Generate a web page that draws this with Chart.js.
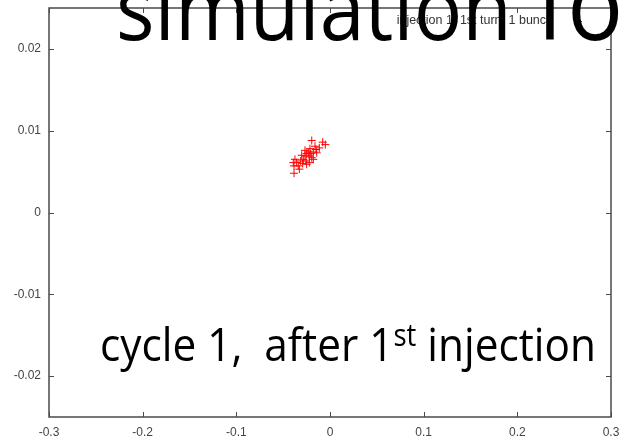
<!DOCTYPE html>
<html lang="en">
<head>
  <meta charset="UTF-8">
  <title>Injection 1 - bunch distribution</title>
  <script src="https://cdn.jsdelivr.net/npm/chart.js"></script>
  <style>
    html, body {
      margin: 0;
      padding: 0;
      background: #fff;
    }

    .chart-box {
      width: 624px;
      height: 444px;
      position: relative;
    }
  </style>
</head>
<body>

  <div class="chart-box">
    <canvas id="bunchChart"></canvas>
  </div>

  <script>
    // axis ticks
    const xTickValues = [-0.3, -0.2, -0.1, 0, 0.1, 0.2, 0.3];
    const xTickLabels = ['-0.3', '-0.2', '-0.1', '0', '0.1', '0.2', '0.3'];
    const yTickValues = [-0.02, -0.01, 0, 0.01, 0.02];
    const yTickLabels = ['-0.02', '-0.01', '0', '0.01', '0.02'];

    // particles of the bunch
    const bunchX = [-0.0195, -0.0078, -0.0050, -0.0114, -0.0149, -0.0178, -0.0206, -0.0232,
                    -0.0249, -0.0267, -0.0221, -0.0195, -0.0285, -0.0313, -0.0256, -0.0292,
                    -0.0249, -0.0374, -0.0392, -0.0356, -0.0384, -0.0338, -0.0384, -0.0160,
                    -0.0214, -0.0267, -0.0142, -0.0302, -0.0178, -0.0327, -0.0221];
    const bunchY = [0.0088, 0.0086, 0.0083, 0.0079, 0.0077, 0.0074, 0.0072, 0.0074,
                    0.0072, 0.0069, 0.0069, 0.0067, 0.0065, 0.0063, 0.0063, 0.0060,
                    0.0059, 0.0065, 0.0061, 0.0061, 0.0057, 0.0057, 0.0048, 0.0081,
                    0.0078, 0.0076, 0.0073, 0.0070, 0.0065, 0.0053, 0.0061];

    const seriesLabel = 'injection 1, 1st turn, 1 bunch';
    const titleWords = ['simulation', 'fo'];
    const captionParts = ['cycle 1,  after 1', 'st', ' injection'];

    const points = bunchX.map((x, i) => ({ x: x, y: bunchY[i] }));

    // frame, inward ticks, key and the slide texts on top of the plot
    const overlay = {
      id: 'overlay',
      afterDraw(chart) {
        const ctx = chart.ctx;
        const { left, right, top, bottom } = chart.chartArea;
        const xs = chart.scales.x;
        const ys = chart.scales.y;
        ctx.save();

        ctx.strokeStyle = '#4a4a4a';
        ctx.lineWidth = 1.5;
        ctx.strokeRect(left, top, right - left, bottom - top);

        ctx.lineWidth = 1;
        ctx.beginPath();
        xTickValues.forEach(v => {
          const px = Math.round(xs.getPixelForValue(v)) + 0.5;
          ctx.moveTo(px, bottom); ctx.lineTo(px, bottom - 5);
          ctx.moveTo(px, top); ctx.lineTo(px, top + 5);
        });
        yTickValues.forEach(v => {
          const py = Math.round(ys.getPixelForValue(v)) + 0.5;
          ctx.moveTo(left, py); ctx.lineTo(left + 5, py);
          ctx.moveTo(right, py); ctx.lineTo(right - 5, py);
        });
        ctx.stroke();

        // key
        ctx.font = '12.5px "Liberation Sans", Arial, sans-serif';
        ctx.fillStyle = '#333';
        ctx.textAlign = 'right';
        ctx.textBaseline = 'middle';
        ctx.fillText(seriesLabel, 553, 21);
        ctx.strokeStyle = '#ff0000';
        ctx.beginPath();
        ctx.moveTo(574, 21.5); ctx.lineTo(582, 21.5);
        ctx.moveTo(578.5, 17); ctx.lineTo(578.5, 25);
        ctx.stroke();

        // slide title, cut by the page edge
        ctx.fillStyle = '#000';
        ctx.textAlign = 'left';
        ctx.textBaseline = 'alphabetic';
        ctx.font = '100px "Open Sans", sans-serif';
        const tSize = 100 * 396 / ctx.measureText(titleWords[0]).width;
        ctx.save();
        ctx.translate(0, 40);
        ctx.scale(1, 1.08);
        ctx.font = tSize + 'px "Open Sans", sans-serif';
        ctx.fillText(titleWords[0], 116, 0);
        ctx.font = (tSize * 1.15) + 'px "Open Sans", sans-serif';
        ctx.fillText(titleWords[1], 536, 0);
        ctx.restore();

        // caption with superscript
        const base = 50;
        ctx.font = base + 'px "Open Sans", sans-serif';
        let w = ctx.measureText(captionParts[0]).width + ctx.measureText(captionParts[2]).width;
        ctx.font = (base * 0.65) + 'px "Open Sans", sans-serif';
        w += ctx.measureText(captionParts[1]).width;
        const k = 496 / w;
        const big = base * k, small = base * 0.65 * k;
        ctx.translate(100, 361);
        ctx.scale(1, 1.1);
        let cx = 0;
        ctx.font = big + 'px "Open Sans", sans-serif';
        ctx.fillText(captionParts[0], cx, 0);
        cx += ctx.measureText(captionParts[0]).width;
        ctx.font = small + 'px "Open Sans", sans-serif';
        ctx.fillText(captionParts[1], cx, -big * 0.33);
        cx += ctx.measureText(captionParts[1]).width;
        ctx.font = big + 'px "Open Sans", sans-serif';
        ctx.fillText(captionParts[2], cx, 0);

        ctx.restore();
      }
    };

    const ctx = document.getElementById('bunchChart').getContext('2d');
    new Chart(ctx, {
      type: 'scatter',
      data: {
        datasets: [{
          label: seriesLabel,
          data: points,
          pointStyle: 'cross',
          pointRadius: 4,
          borderColor: '#ff0000',
          backgroundColor: '#ff0000',
          borderWidth: 1
        }]
      },
      options: {
        responsive: true,
        maintainAspectRatio: false,
        animation: false,
        layout: { padding: { left: 0, right: 13, top: 8, bottom: 0 } },
        plugins: {
          legend: { display: false },
          tooltip: { enabled: false }
        },
        scales: {
          x: {
            type: 'linear',
            min: -0.3,
            max: 0.3,
            afterBuildTicks: s => { s.ticks = xTickValues.map(v => ({ value: v })); },
            afterFit: s => { s.height = 27; s.paddingLeft = 0; s.paddingRight = 0; },
            grid: { display: false, drawTicks: false },
            border: { display: false },
            ticks: {
              padding: 8,
              maxRotation: 0,
              color: '#444',
              font: { family: '"Liberation Sans", Arial, sans-serif', size: 12 },
              callback: (v, i) => xTickLabels[i]
            }
          },
          y: {
            type: 'linear',
            min: -0.025,
            max: 0.025,
            afterBuildTicks: s => { s.ticks = yTickValues.map(v => ({ value: v })); },
            afterFit: s => { s.width = 49; s.paddingTop = 0; s.paddingBottom = 0; },
            grid: { display: false, drawTicks: false },
            border: { display: false },
            ticks: {
              padding: 8,
              color: '#444',
              font: { family: '"Liberation Sans", Arial, sans-serif', size: 12 },
              callback: (v, i) => yTickLabels[i]
            }
          }
        }
      },
      plugins: [overlay]
    });
  </script>

</body>
</html>
